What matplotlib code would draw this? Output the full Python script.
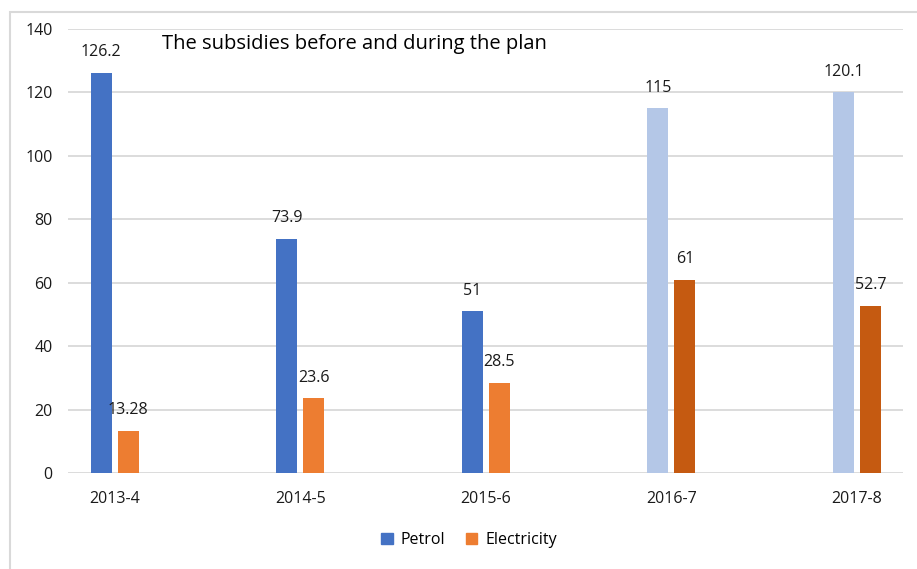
import numpy as np
import matplotlib.pyplot as plt
from matplotlib.patches import Patch, Rectangle

# Data
years = ['2013-4', '2014-5', '2015-6', '2016-7', '2017-8']
petrol = [126.2, 73.9, 51, 115, 120.1]
electricity = [13.28, 23.6, 28.5, 61, 52.7]
petrol_labels = ['126.2', '73.9', '51', '115', '120.1']
elec_labels = ['13.28', '23.6', '28.5', '61', '52.7']

# before the plan = strong colours, during = light/dark variants
petrol_colors = ['#4472C4', '#4472C4', '#4472C4', '#B4C7E7', '#B4C7E7']
elec_colors = ['#ED7D31', '#ED7D31', '#ED7D31', '#C55A11', '#C55A11']

plt.rcParams['font.family'] = ['Open Sans', 'DejaVu Sans']

fig = plt.figure(figsize=(9.17, 5.69), dpi=100)
ax = fig.add_axes([68/917, 96/569, 835/917, 444/569])

# outer chart frame (cropped at right and bottom)
fig.patches.append(Rectangle((10/917, -0.1), 1.2, 557/569 + 0.1,
                             transform=fig.transFigure, fill=False,
                             edgecolor='#D9D9D9', linewidth=1.5))

x = np.arange(len(years))
width = 0.113
off = 0.073

b1 = ax.bar(x - off, petrol, width, color=petrol_colors, zorder=3)
b2 = ax.bar(x + off, electricity, width, color=elec_colors, zorder=3)

for bars, labels in ((b1, petrol_labels), (b2, elec_labels)):
    for bar, lab in zip(bars, labels):
        ax.annotate(lab, (bar.get_x() + bar.get_width()/2, bar.get_height()),
                    xytext=(0, 9), textcoords='offset points',
                    ha='center', va='bottom', fontsize=11.5, color='#1a1a1a')

ax.set_xlim(-0.252, 4.248)
ax.set_ylim(0, 140)
ax.set_yticks(np.arange(0, 141, 20))
ax.set_xticks(x)
ax.set_xticklabels(years)

for s in ax.spines.values():
    s.set_visible(False)
ax.grid(True, axis='y', color='#D9D9D9', linewidth=1.3, zorder=0)
ax.set_axisbelow(True)
ax.tick_params(axis='both', length=0, labelsize=11.5, colors='#1a1a1a')
ax.tick_params(axis='y', pad=11)
ax.tick_params(axis='x', pad=13)

ax.text(0.1126, 0.966, 'The subsidies before and during the plan',
        transform=ax.transAxes, ha='left', va='center', fontsize=14.5,
        color='#000000')

handles = [Patch(color='#4472C4', label='Petrol'),
           Patch(color='#ED7D31', label='Electricity')]
fig.legend(handles=handles, loc='center', bbox_to_anchor=(469/917, 1 - 540/569),
           ncol=2, frameon=False, fontsize=11.5, handlelength=0.7,
           handleheight=0.7, handletextpad=0.5, columnspacing=1.3)

fig.savefig('out.png', dpi=100)
